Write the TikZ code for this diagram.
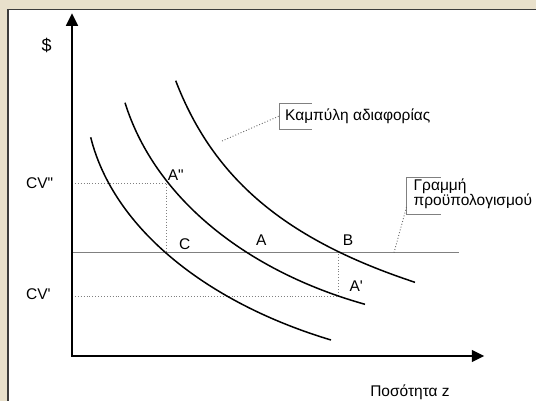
\documentclass[tikz,border=0pt]{standalone}
\usepackage{fontspec}
\usepackage{xcolor}
\usepackage{tikz}
\usetikzlibrary{arrows.meta,positioning}

\newfontfamily\arialgr{Liberation Sans}

\definecolor{parchment}{RGB}{232,224,203}
\definecolor{frameline}{RGB}{60,60,60}
\definecolor{budgetgray}{RGB}{128,128,128}

\tikzset{
  lbl/.style={font=\arialgr\fontsize{15.5}{15.5}\selectfont, inner sep=0pt, anchor=base west},
  axis/.style={line width=1.6pt, {Triangle[length=12.5pt,width=12pt]}-{Triangle[length=12.5pt,width=12pt]}},
  icurve/.style={line width=1.5pt, black},
  budget/.style={line width=1.4pt, budgetgray},
  guide/.style={dotted, line width=0.9pt, gray},
  leader/.style={dotted, line width=0.9pt, gray!80!black},
  callout/.style={line width=0.9pt, budgetgray},
}

\begin{document}
\begin{tikzpicture}[x=1pt,y=-1pt]

  \useasboundingbox (0,0) rectangle (536,401);
  \fill[parchment] (0,0) rectangle (536,401);
  \fill[white] (8,9.3) rectangle (536,401);
  \draw[frameline, line width=1.5pt] (8,401) |- (536,9.3);

  \coordinate (O)    at (72,356);
  \coordinate (ytop) at (72,13.3);
  \coordinate (xend) at (484.3,356);
  \coordinate (bl)   at (72,252.7);
  \coordinate (br)   at (459,252.7);
  \coordinate (cv2)  at (72,183);
  \coordinate (cv1)  at (72,296);
  \coordinate (C)    at (166.7,252.7);
  \coordinate (A2)   at (166.7,183);
  \coordinate (A)    at (246.7,252.7);
  \coordinate (B)    at (338.3,252.7);
  \coordinate (A1)   at (338.3,296);

  \draw[guide] (cv2) -- (A2) -- (C);
  \draw[guide] (cv1) -- (A1) -- (B);
  \draw[budget] (bl) -- (br);
  \draw[axis] (ytop) -- (O) -- (xend);

  \draw[icurve] (90.7,137.3) .. controls (113.6,229.1) and (208,303.1) .. (331,340);
  \draw[icurve] (125,102.7) .. controls (155.4,199.9) and (248.6,271.7) .. (365,304.3);
  \draw[icurve] (175.7,80.7) .. controls (213.5,179) and (285.3,239.5) .. (415,282.3);

  \node[lbl, anchor=center, font=\arialgr\fontsize{18}{18}\selectfont] (dollar) at (46.7,45.5) {\$};
  \node[lbl] (cvtwolbl) at (26,188.3) {CV"};
  \node[lbl] (cvonelbl) at (26,299.3) {CV'};
  \node[lbl] (atwolbl)  at (167.7,180.7) {A"};
  \node[lbl] (clbl)     at (179,249.3) {C};
  \node[lbl] (albl)     at (256,245) {A};
  \node[lbl] (blbl)     at (342.7,245) {B};
  \node[lbl] (aonelbl)  at (349.3,291.7) {A'};
  \node[lbl, anchor=base] (qty) at (410,396.7) {Ποσότητα z};

  \node[lbl] (indiff) at (285,120.7) {Καμπύλη αδιαφορίας};
  \draw[callout] (311.7,103) -| (279.3,129) -- (311.7,129);
  \coordinate (indiffpt) at (222,141);
  \coordinate (indiffbr) at (279.3,116);
  \draw[leader] (indiffpt) -- (indiffbr);

  \node[lbl] (budgetlbl) at (413.5,190.5) {Γραμμή};
  \node[lbl] (budgetlbltwo) at ([yshift=-15pt]budgetlbl.base west) {προϋπολογισμού};
  \draw[callout] (440.5,177) -| (406.5,214) -- (440.5,214);
  \coordinate (budgetpt) at (394,252.7);
  \coordinate (budgetbr) at (406.5,207);
  \draw[leader] (budgetpt) -- (budgetbr);

\end{tikzpicture}
\end{document}
